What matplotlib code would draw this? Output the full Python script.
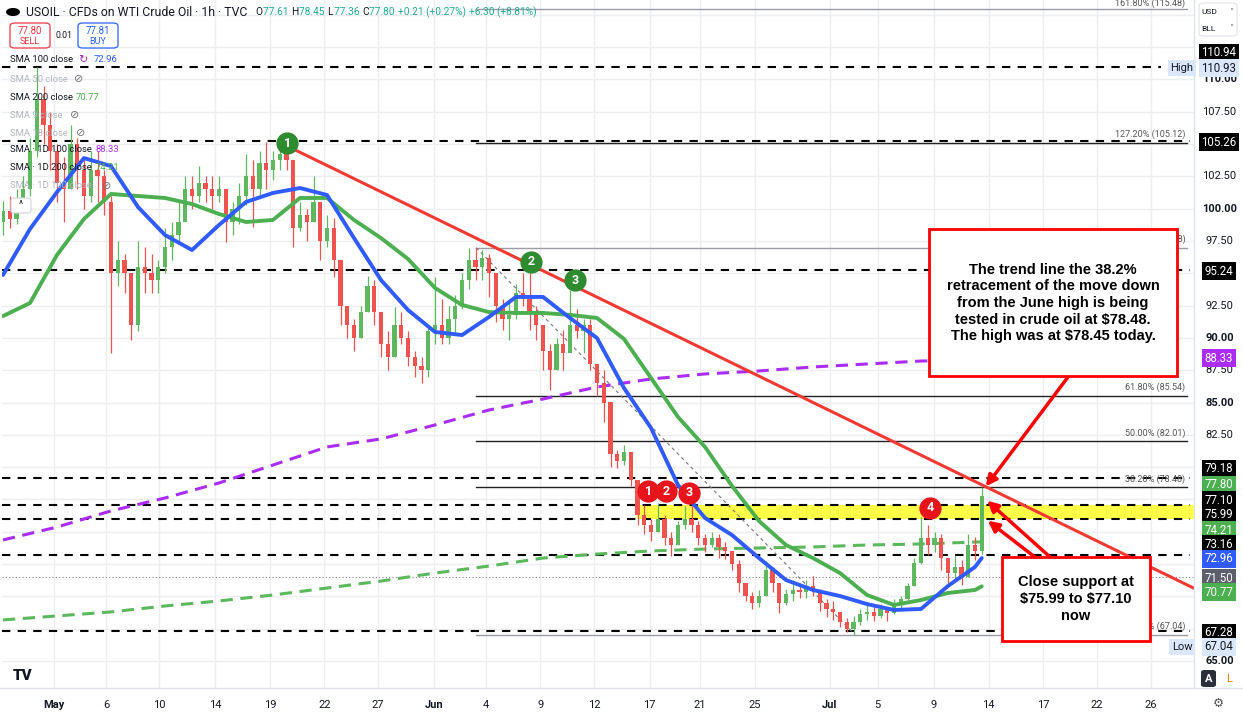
import matplotlib
matplotlib.use("Agg")
import matplotlib.pyplot as plt
import numpy as np
from matplotlib.patches import Rectangle, FancyBboxPatch, Circle

W, H = 1243, 717
PANE_BOTTOM = 688   # px, bottom of the price pane
AXIS_LEFT = 1194    # px, start of the price scale

# ---------------- data (half-day bars) ----------------
first_open = 99.0
closes = [99.8, 99.2, 100.2, 101.5, 104.5, 108.5, 106.5, 104.5, 102.0, 101.5,
          105.0, 103.0, 101.0, 103.0, 102.5, 100.5, 95.0, 96.0, 95.0, 91.0,
          95.5, 95.0, 94.5, 95.5, 97.0, 98.0, 99.0, 101.5, 101.0, 102.0,
          101.5, 101.0, 101.5, 99.0, 100.0, 101.0, 102.5, 101.5, 103.5, 103.0,
          103.8, 104.2, 103.8, 98.5, 99.5, 99.0, 100.5, 97.5, 98.5, 96.0,
          92.5, 91.0, 90.0, 92.0, 94.0, 92.0, 89.5, 88.5, 91.0, 90.0,
          88.5, 87.8, 87.5, 90.5, 91.0, 90.0, 91.5, 92.5, 94.5, 96.0,
          95.5, 96.2, 95.0, 92.5, 91.5, 91.8, 93.5, 93.0, 92.0, 91.0,
          89.0, 87.5, 89.5, 88.8, 91.0, 90.5, 91.0, 88.0, 86.5, 85.0,
          81.0, 80.5, 81.2, 79.0, 76.3, 75.5, 75.0, 76.0, 74.5, 74.0,
          75.5, 76.0, 75.5, 74.5, 74.0, 74.5, 73.8, 73.5, 72.5, 71.0,
          70.0, 69.5, 70.0, 72.0, 71.0, 69.5, 70.2, 70.5, 70.3, 70.8,
          70.5, 69.5, 69.0, 68.8, 68.0, 67.5, 68.0, 68.6, 68.8, 68.5,
          69.0, 68.7, 69.4, 69.8, 70.8, 72.6, 74.5, 74.0, 74.5, 73.0,
          71.8, 72.3, 71.5, 74.0, 73.5, 77.80]
highs = [100.6, 101.0, 101.5, 102.5, 105.5, 110.93, 109.5, 107.5, 105.0, 104.0,
         106.5, 105.5, 104.0, 104.5, 104.5, 103.0, 101.0, 97.5, 96.5, 95.0,
         97.5, 97.0, 96.5, 96.0, 98.5, 99.0, 100.5, 102.5, 102.5, 103.3,
         102.5, 102.5, 102.5, 101.5, 100.5, 102.0, 104.2, 103.8, 104.5, 105.2,
         104.5, 105.0, 105.0, 103.8, 100.5, 100.0, 102.5, 100.5, 99.5, 99.3,
         94.0, 92.5, 91.5, 92.5, 94.8, 94.5, 92.0, 90.5, 92.4, 92.0,
         90.5, 89.0, 88.5, 91.0, 94.7, 93.0, 92.5, 93.3, 95.0, 96.98,
         96.98, 96.8, 96.5, 94.0, 93.0, 93.0, 94.2, 95.0, 95.0, 92.5,
         91.0, 89.5, 90.0, 90.6, 93.7, 92.2, 91.5, 91.5, 88.0, 87.5,
         82.3, 81.3, 81.7, 81.0, 77.5, 77.1, 76.0, 77.2, 76.3, 75.0,
         75.8, 77.0, 77.3, 75.8, 74.8, 75.0, 74.8, 74.2, 73.5, 72.8,
         71.0, 70.3, 70.5, 72.7, 72.3, 71.0, 70.6, 71.0, 71.0, 71.3,
         71.6, 70.6, 69.8, 69.6, 68.8, 68.3, 68.5, 69.0, 69.3, 69.3,
         69.4, 69.2, 69.8, 70.0, 71.0, 73.0, 76.1, 75.5, 75.0, 74.8,
         73.0, 73.1, 72.8, 74.8, 74.6, 78.45]
lows = [98.0, 98.5, 98.8, 99.8, 101.0, 104.0, 105.0, 103.0, 100.5, 99.0,
        101.5, 101.5, 100.0, 100.5, 100.5, 99.5, 88.8, 94.0, 93.5, 89.8,
        90.5, 93.5, 93.5, 93.5, 95.0, 96.0, 97.5, 99.5, 100.0, 100.5,
        100.5, 100.0, 100.5, 97.4, 98.0, 98.8, 100.3, 98.6, 101.0, 101.5,
        102.2, 103.0, 103.0, 97.0, 98.3, 97.5, 99.0, 96.0, 97.0, 94.7,
        91.0, 90.0, 89.0, 90.0, 92.0, 91.0, 88.5, 87.5, 88.5, 89.5,
        87.8, 87.0, 86.5, 87.0, 89.5, 89.5, 89.5, 90.4, 92.2, 93.8,
        94.5, 94.5, 93.2, 91.2, 90.6, 89.8, 91.5, 92.5, 90.6, 89.8,
        87.5, 86.0, 87.5, 87.5, 89.5, 90.0, 88.8, 87.5, 85.5, 83.5,
        80.0, 79.9, 80.2, 78.5, 75.5, 74.8, 74.3, 75.0, 74.0, 73.1,
        74.0, 75.2, 75.0, 74.0, 73.4, 73.8, 73.0, 72.9, 72.0, 70.3,
        69.6, 69.0, 69.2, 70.0, 70.3, 68.7, 69.3, 69.6, 69.9, 69.9,
        70.0, 68.9, 68.4, 68.2, 67.6, 67.2, 67.04, 67.8, 68.2, 68.1,
        68.3, 68.1, 68.6, 69.0, 69.5, 70.8, 72.5, 73.2, 73.4, 72.0,
        71.0, 71.3, 70.9, 71.5, 72.8, 73.3]

# moving averages, sampled every 4 bars (plus the last bar)
ma_step = 4
sma100 = [94.87, 98.43, 101.29, 103.92, 103.30, 100.13, 97.96, 96.80, 98.74, 100.52,
          101.22, 101.60, 101.06, 97.73, 94.48, 92.16, 90.46, 90.22, 91.62, 93.17,
          93.17, 91.54, 89.99, 86.12, 83.03, 78.61, 76.06, 74.74, 72.96, 71.26,
          70.49, 70.02, 69.40, 68.94, 69.02, 70.80, 72.27, 72.96]
sma200 = [91.69, 92.70, 96.42, 99.21, 101.14, 100.98, 100.83, 100.36, 99.59, 98.97,
          99.13, 100.83, 100.83, 99.13, 97.73, 96.11, 93.87, 92.55, 92.00, 91.93,
          91.93, 91.78, 91.54, 89.92, 86.90, 83.88, 81.56, 78.54, 75.83, 73.97,
          72.96, 71.80, 70.10, 69.33, 69.71, 70.26, 70.49, 70.77]
# daily SMAs, sampled every 8 bars (plus the last bar)
d_step = 8
sma_1d_100 = [74.36, 75.36, 76.61, 77.61, 78.77, 80.16, 81.56, 82.18, 83.26, 84.42,
              85.27, 86.20, 86.82, 87.21, 87.44, 87.75, 87.98, 88.21, 88.28, 88.33]
sma_1d_200 = [68.17, 68.48, 68.79, 69.25, 69.64, 70.10, 70.64, 71.18, 71.80, 72.34,
              72.96, 73.27, 73.51, 73.66, 73.74, 73.82, 73.97, 74.05, 74.20, 74.21]

tick_idx = [7.5, 15.3, 23.1, 31.4, 39.6, 47.6, 55.5, 63.8, 71.6, 79.6, 87.6,
            95.8, 103.2, 111.4, 122.5, 129.6, 137.9, 146.0, 154.1, 162.0, 170.0]
tick_labels = ["May", "6", "10", "14", "19", "22", "27", "Jun", "4", "9", "12",
               "17", "21", "25", "Jul", "5", "9", "14", "17", "22", "26"]

levels = [110.94, 105.26, 95.24, 79.18, 77.10, 75.99, 73.16, 67.28]
fib_ratios = ["0.00%", "38.20%", "50.00%", "61.80%", "100.00%", "127.20%", "161.80%"]
fib_values = [67.04, 78.48, 82.01, 85.54, 96.98, 105.12, 115.48]
fib_start, fib_low_idx = 70.1, 126.2
trend_pts = [(42.1, 104.85), (145.6, 78.48)]
prev_close = 71.50
session_high, session_low = 110.93, 67.04

green_marks = [("1", 42.1, 105.08), ("2", 78.2, 95.88), ("3", 84.7, 94.48)]
red_marks = [("1", 95.6, 78.15), ("2", 98.2, 78.15), ("3", 101.6, 78.0), ("4", 137.3, 76.84)]

UP, DOWN = "#5fb760", "#ef5350"
BLUE, GREEN, PURPLE, RED = "#2f5bff", "#4caf50", "#aa2cf5", "#f23a33"
GRID = "#eceef2"
DARK = "#131722"

plt.rcParams["font.family"] = ["Roboto", "DejaVu Sans"]

fig = plt.figure(figsize=(W / 100, H / 100), dpi=100)
fig.patch.set_facecolor("white")


def fx(x):
    return x / W


def fy(y):
    return 1 - y / H


ylo = 110 - (PANE_BOTTOM - 79.5) / 12.92
yhi = 110 + 79.5 / 12.92
xlo, xhi = (2 - 3) / 6.75, (AXIS_LEFT - 3) / 6.75

ax = fig.add_axes([fx(2), fy(PANE_BOTTOM), (AXIS_LEFT - 2) / W, PANE_BOTTOM / H])
ax.set_xlim(xlo, xhi)
ax.set_ylim(ylo, yhi)
for s in ax.spines.values():
    s.set_visible(False)
ax.set_yticks([])

# grid
for p in np.arange(65, 117, 2.5):
    ax.axhline(p, color=GRID, lw=1, zorder=0)
for t in tick_idx:
    ax.axvline(t, color=GRID, lw=1, zorder=0)

ax.set_xticks(tick_idx)
ax.set_xticklabels(tick_labels)
ax.tick_params(axis="x", length=0, pad=9, labelsize=8, labelcolor=DARK)
for lab in ax.get_xticklabels():
    if lab.get_text() in ("May", "Jun", "Jul"):
        lab.set_fontweight("bold")

# yellow support zone
ax.fill_between([93.9, xhi], 75.99, 77.10, color="#ffff33", alpha=0.9, zorder=1, lw=0)

# horizontal levels
for lv in levels:
    x_end = 171.5 if lv == levels[0] else 175.8
    ax.plot([xlo, x_end], [lv, lv], color="black", lw=1.5,
            ls=(0, (4, 3.5)), zorder=2)
ax.axhline(prev_close, color="#888", lw=0.8, ls=(0, (1, 2)), zorder=1)

# fib retracement
for r, v in zip(fib_ratios, fib_values):
    col = "#9a9da6" if r in ("0.00%", "100.00%", "161.80%") else "#222"
    ax.plot([fib_start, 175.4], [v, v], color=col, lw=1, zorder=2)
    off = 0.08 if v > 115 else 0.25
    ax.text(175.2, v + off, f"{r} ({v:.2f})", ha="right", va="bottom",
            fontsize=6.5, color="#555", zorder=2)
ax.plot([fib_start, fib_low_idx], [fib_values[4], fib_values[0]],
        color="#777", lw=0.8, ls=(0, (3, 3)), zorder=2)

# moving averages
ma_x = list(range(0, len(closes) - 1, ma_step)) + [len(closes) - 1]
d_x = list(range(0, len(closes) - 1, d_step)) + [len(closes) - 1]
ax.plot(d_x, sma_1d_100, color=PURPLE, lw=2.2, ls=(0, (4, 2.5)), zorder=2)
ax.plot(d_x, sma_1d_200, color="#5cb85c", lw=2.2, ls=(0, (4, 2.5)), zorder=2)
ax.plot(ma_x, sma200, color=GREEN, lw=2.8, zorder=4, solid_capstyle="round")
ax.plot(ma_x, sma100, color=BLUE, lw=2.8, zorder=4, solid_capstyle="round")

# candles
idx = np.arange(len(closes))
c = np.array(closes)
o = np.array([first_open] + closes[:-1])
cols = np.where(c >= o, UP, DOWN)
ax.vlines(idx, lows, highs, colors=cols, lw=0.9, zorder=3)
ax.bar(idx, np.maximum(np.abs(c - o), 0.08), bottom=np.minimum(o, c),
       width=0.6, color=cols, lw=0, zorder=3)

# trend line
(x0, y0), (x1, y1) = trend_pts
slope = (y1 - y0) / (x1 - x0)
ax.plot([x0, xhi], [y0, y0 + slope * (xhi - x0)], color=RED, lw=2.2, zorder=5)

# numbered markers
for lab, k, p in green_marks:
    ax.plot(k, p, "o", ms=15, color="#2e8b30", zorder=6)
    ax.text(k, p, lab, color="white", fontsize=9, fontweight="bold",
            ha="center", va="center", zorder=7)
for lab, k, p in red_marks:
    ax.plot(k, p, "o", ms=15, color="#e8141b", zorder=6)
    ax.text(k, p, lab, color="white", fontsize=9, fontweight="bold",
            ha="center", va="center", zorder=7)


# annotation boxes
def fig_rect(x0, y0, x1, y1, **kw):
    r = Rectangle((fx(x0), fy(y1)), (x1 - x0) / W, (y1 - y0) / H,
                  transform=fig.transFigure, **kw)
    fig.patches.append(r)
    return r


fig_rect(929, 229, 1177, 376, fc="white", ec="#ff0000", lw=2, zorder=5)
fig.text(fx(1053), fy(303),
         "The trend line the 38.2%\nretracement of the move down\nfrom the June high is being\n"
         "tested in crude oil at \\$78.48.\nThe high was at \\$78.45 today.",
         ha="center", va="center", fontsize=10.5, fontweight="bold",
         family="Liberation Sans", linespacing=1.23, color="black", zorder=6)
fig_rect(1002, 557, 1150, 641, fc="white", ec="#ff0000", lw=2, zorder=5)
fig.text(fx(1076), fy(599), "Close support at\n\\$75.99 to \\$77.10\nnow",
         ha="center", va="center", fontsize=10.5, fontweight="bold",
         family="Liberation Sans", linespacing=1.23, color="black", zorder=6)

arrows = [((145.6, 78.5), (1068, 377)), ((145.8, 77.4), (1050, 557)),
          ((145.9, 75.85), (1040, 561))]
for tip, tail in arrows:
    ax.annotate("", xy=tip, xytext=(fx(tail[0]), fy(tail[1])),
                textcoords="figure fraction", annotation_clip=False,
                arrowprops=dict(arrowstyle="-|>", color="#ff0000", lw=2.5,
                                mutation_scale=16, shrinkA=0, shrinkB=0),
                zorder=8)

# price scale
fig.add_artist(plt.Line2D([fx(AXIS_LEFT)] * 2, [fy(PANE_BOTTOM), 1], color="#e0e3eb",
                          lw=1, transform=fig.transFigure))
fig.add_artist(plt.Line2D([0, 1], [fy(PANE_BOTTOM)] * 2, color="#e0e3eb",
                          lw=1, transform=fig.transFigure))
axr = fig.add_axes([fx(AXIS_LEFT), fy(PANE_BOTTOM), (W - AXIS_LEFT) / W, PANE_BOTTOM / H])
axr.set_ylim(ylo, yhi)
axr.set_xlim(0, 1)
axr.axis("off")
for p in [110.0, 107.5, 102.5, 100.0, 97.5, 92.5, 90.0, 87.5, 85.0, 82.5, 65.0]:
    bold = p in (110.0, 100.0, 90.0, 85.0, 65.0)
    axr.text(0.52, p, f"{p:.2f}", ha="center", va="center", fontsize=8,
             color=DARK, fontweight="bold" if bold else "normal")

tags = [
    (levels[0], 53, "black", "white"),
    (session_high, 68, "#dbe8fb", DARK),
    (levels[1], 142, "black", "white"),
    (levels[2], 271, "black", "white"),
    (sma_1d_100[-1], 358, PURPLE, "white"),
    (levels[3], 469, "black", "white"),
    (closes[-1], 485, "#4caf50", "white"),
    (levels[4], 500, "black", "white"),
    (levels[5], 514, "black", "white"),
    (sma_1d_200[-1], 530, "#4caf50", "white"),
    (levels[6], 544, "black", "white"),
    (sma100[-1], 559, BLUE, "white"),
    (prev_close, 578, "#5d606b", "white"),
    (sma200[-1], 592, "#4caf50", "white"),
    (levels[7], 633, "black", "white"),
    (session_low, 647, "#dbe8fb", DARK),
]
for val, ypx, bg, fg in tags:
    fig.text(fx(1219), fy(ypx), f"{val:.2f}", ha="center", va="center",
             fontsize=8.3, color=fg, zorder=6,
             bbox=dict(boxstyle="square,pad=0.22", fc=bg, ec="none"))
for lab, ypx in (("High", 68), ("Low", 647)):
    fig.text(fx(1182), fy(ypx), lab, ha="center", va="center", fontsize=8,
             color=DARK, zorder=6,
             bbox=dict(boxstyle="square,pad=0.25", fc="#dbe8fb", ec="none"))

# currency / unit selector
fig.patches.append(FancyBboxPatch((fx(1199), fy(36)), 38 / W, 33 / H,
                                  boxstyle="round,pad=0,rounding_size=0.004",
                                  transform=fig.transFigure, fc="white",
                                  ec="#e0e3eb", lw=0.8))
fig.text(fx(1201), fy(12), "USD", fontsize=6, va="center", color=DARK)
fig.text(fx(1201), fy(29), "BLL", fontsize=6, va="center", color=DARK)
for ypx in (12, 29):
    fig.text(fx(1231), fy(ypx), "˅", fontsize=6, va="center", ha="center",
             color="#555", family=["DejaVu Sans"])

# A / L buttons and gear
fig.patches.append(FancyBboxPatch((fx(1201), fy(687)), 15 / W, 17 / H,
                                  boxstyle="round,pad=0,rounding_size=0.003",
                                  transform=fig.transFigure, fc="#2a2e39", ec="none"))
fig.text(fx(1208.5), fy(678.5), "A", ha="center", va="center", fontsize=8,
         color="white", fontweight="bold")
fig.text(fx(1229), fy(678.5), "L", ha="center", va="center", fontsize=8,
         color="#e07b00")
fig.text(fx(1218), fy(703), "⚙", ha="center", va="center", fontsize=9,
         color="#555", family=["DejaVu Sans"])

# header
fig.patches.append(Circle((fx(13), fy(12)), 7 / W, transform=fig.transFigure,
                          fc="black", ec="none"))
renderer = fig.canvas.get_renderer()
title = fig.text(fx(26), fy(12), "USOIL · CFDs on WTI Crude Oil · 1h · TVC",
                 fontsize=8.8, va="center", color=DARK)
xpos = 26 + title.get_window_extent(renderer).width + 8
pieces = [("O", DARK), ("77.61 ", "#22ab94"), ("H", DARK), ("78.45 ", "#22ab94"),
          ("L", DARK), ("77.36 ", "#22ab94"), ("C", DARK), ("77.80 ", "#22ab94"),
          ("+0.21 (+0.27%) ", "#22ab94"), ("+6.30 (+8.81%)", "#22ab94")]
for s, col in pieces:
    t = fig.text(fx(xpos), fy(12), s, fontsize=7.3, va="center", color=col)
    xpos += t.get_window_extent(renderer).width + 0.5

# sell / buy
for x0, col, price, lab in ((10, "#f23645", "77.80", "SELL"),
                            (78, "#2962ff", "77.81", "BUY")):
    fig.patches.append(FancyBboxPatch((fx(x0), fy(48)), 40 / W, 25 / H,
                                      boxstyle="round,pad=0,rounding_size=0.004",
                                      transform=fig.transFigure, fc="white",
                                      ec=col, lw=0.9))
    fig.text(fx(x0 + 20), fy(31), price, ha="center", va="center", fontsize=7, color=col)
    fig.text(fx(x0 + 20), fy(41), lab, ha="center", va="center", fontsize=6.5, color=col)
fig.text(fx(64), fy(35), "0.01", ha="center", va="center", fontsize=6.3, color=DARK)

# indicator legend
HIDE = "#b2b5be"
legend_rows = [
    (60, "SMA 100 close", DARK, "↻", 78, "#9c27b0", f"{sma100[-1]:.2f}", 94, BLUE),
    (79, "SMA 50 close", HIDE, "⊘", 74, "#777", None, 0, None),
    (97, "SMA 200 close", DARK, None, 0, None, f"{sma200[-1]:.2f}", 76, GREEN),
    (115, "SMA 9 close", HIDE, "⊘", 70, "#777", None, 0, None),
    (133, "SMA 18 close", HIDE, "⊘", 76, "#777", None, 0, None),
    (150, "SMA · 1D 100 close", DARK, None, 0, None, f"{sma_1d_100[-1]:.2f}", 96, PURPLE),
    (168, "SMA · 1D 200 close", DARK, None, 0, None, f"{sma_1d_200[-1]:.2f}", 96, GREEN),
    (186, "SMA · 1D 100 close", HIDE, "⊘", 102, "#777", None, 0, None),
]
for ypx, name, col, icon, ix, icol, val, vx, vcol in legend_rows:
    fig.text(fx(10), fy(ypx), name, fontsize=6.8, va="center", color=col, zorder=6)
    if icon:
        fig.text(fx(ix), fy(ypx), icon, fontsize=8, va="center", color=icol,
                 family=["DejaVu Sans"], zorder=6)
    if val:
        fig.text(fx(vx), fy(ypx), val, fontsize=6.8, va="center", color=vcol, zorder=6)
fig.patches.append(FancyBboxPatch((fx(11), fy(213)), 20 / W, 15 / H,
                                  boxstyle="round,pad=0,rounding_size=0.003",
                                  transform=fig.transFigure, fc="white",
                                  ec="#d1d4dc", lw=0.8))
fig.text(fx(21), fy(205), "^", ha="center", va="center", fontsize=7, color=DARK)

# bottom-left logo
fig.text(fx(13), fy(676), "TV", fontsize=11, fontweight="heavy", va="center",
         color=DARK)

fig.savefig("out.png", dpi=100, facecolor="white")
